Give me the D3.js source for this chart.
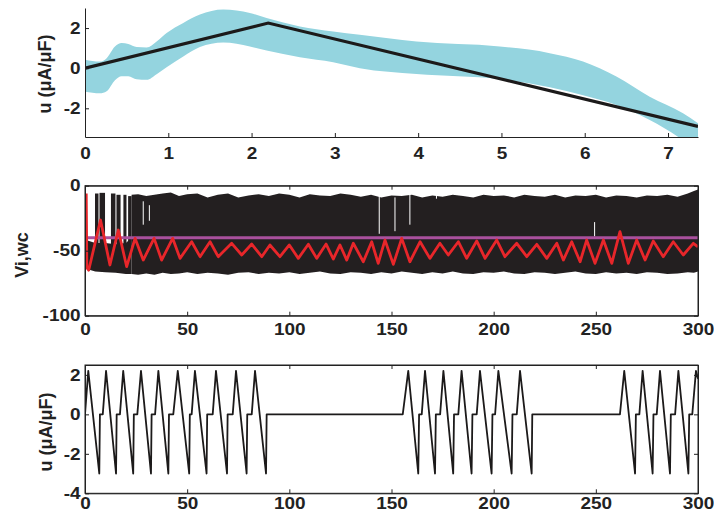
<!DOCTYPE html>
<html>
<head>
<meta charset="utf-8">
<script src="https://cdn.jsdelivr.net/npm/d3@7"></script>
<style>
  body { margin: 0; background: #fff; }
  svg text { font-family: 'Liberation Sans', Arial, sans-serif; font-weight: bold; fill: #222; }
</style>
</head>
<body>
<div id="chart"></div>
<script>
// ---- data: top panel (u band + u trajectory) ----
const bandT     = [0, 0.18, 0.26, 0.36, 0.44, 0.52, 0.62, 0.74, 0.86, 0.98, 1.18, 1.38, 1.66, 1.98, 2.18, 2.58, 2.98, 3.3, 3.98, 4.98, 5.58, 5.98, 6.38, 6.78, 7.18, 7.36];
const bandUpper = [0.42, 0.33, 0.5, 1.08, 1.25, 1.2, 1.05, 1.03, 1.33, 1.75, 2.25, 2.67, 2.92, 2.75, 2.5, 2.08, 1.83, 1.67, 1.33, 1.08, 0.75, 0.33, -0.42, -1.42, -2.25, -2.75];
const bandLower = [-1.17, -1.25, -1.15, -0.6, -0.4, -0.4, -0.55, -0.58, -0.3, 0.05, 0.58, 1.05, 1.28, 1.08, 0.88, 0.55, 0.3, 0.0, -0.29, -0.55, -0.95, -1.35, -1.83, -2.58, -3.6, -4.2];
const uLineT = [0, 2.2, 7.36];
const uLineV = [0, 2.25, -2.9];
const topXTicks = [0, 1, 2, 3, 4, 5, 6, 7];
const topYTicks = [-2, 0, 2];

// ---- data: middle panel (voltages) ----
const envT     = [22.8, 26, 30, 34, 38, 42, 46, 50, 55, 60, 65, 70, 75, 80, 85, 90, 95, 100, 105, 110, 115, 120, 125, 130, 135, 140, 145, 150, 155, 160, 165, 170, 175, 180, 185, 190, 195, 200, 205, 210, 215, 220, 225, 230, 235, 240, 245, 250, 255, 260, 265, 270, 275, 280, 285, 290, 295, 298, 300];
const envUpper = [-7, -6.5, -8, -7, -6, -5.2, -8, -6.5, -6, -9, -7, -6, -9, -7.5, -6.5, -8, -6, -7, -9, -6.5, -7.5, -8, -6, -7, -8.5, -7, -9, -7.5, -8, -7, -9, -7.5, -8.5, -7, -8, -9, -7, -8, -7.5, -9, -7, -8, -8.5, -7, -9, -7.5, -8, -7, -9, -7.5, -8, -9, -7.5, -8, -7, -8.5, -6, -4, -3];
const envLower = [-68, -68.5, -67.5, -68.5, -67, -68, -67.5, -66.5, -68, -67, -67.5, -68.5, -67, -66.5, -68, -67, -67.5, -66.5, -68, -67, -66, -67.5, -68, -66.5, -67, -68, -66.5, -67.5, -66, -67, -68, -66.5, -67.5, -66, -67.5, -68, -66.5, -67, -66, -67.5, -68, -66.5, -67, -68, -67, -66, -67.5, -68, -66.5, -67.5, -67, -68, -66.5, -67, -68, -67.5, -66.5, -67, -66];
const earlyT     = [0.9, 5, 10, 15, 20, 22.8];
const earlyUpper = [-42, -44, -44, -45, -44, -40];
const earlyLower = [-64, -66, -66.5, -67, -68, -68];
const spikeStart = [4.9, 7.1, 12.7, 15.4, 18.8, 21.1];
const spikeEnd   = [6.6, 9.8, 14.9, 17.4, 20.3, 22.8];
const spikeTop   = [-6, -5.5, -6, -7, -7, -8];
const gapT      = [28.5, 31.5, 144, 151.7, 159, 172, 249.4];
const gapTop    = [-12, -15, -6, -9, -6, -6, -28];
const gapBottom = [-30, -27, -37, -35, -30, -10, -39];
const redT = [0.6, 0.9, 1.8, 7.6, 12.2, 16.3, 20.4, 24.5, 28.5, 33.8, 37.5, 42.9, 46.5, 52.2, 56.3, 61.2, 65.2, 71.8, 76.7, 81.6, 86.5, 90.5, 95.4, 100, 104.4, 109.3, 113.4, 118, 121.5, 124.8, 128.1, 131.3, 136.2, 140.3, 143.5, 146.8, 150.9, 155, 159, 164, 168.8, 173.7, 177.8, 182.7, 186.8, 191.7, 195.8, 201.5, 205.5, 211.3, 216.2, 221.1, 226, 230.9, 234.1, 238.2, 242.3, 245.5, 249.6, 253.7, 257.8, 261.8, 265.9, 270, 274.1, 278.1, 283, 287.9, 292.8, 297.7, 300];
const redV = [-6, -63, -65, -26.4, -61, -34.1, -62.3, -40.5, -57.2, -40.5, -57.2, -40.5, -55.9, -43.1, -54.6, -43.1, -54.6, -44.3, -53.3, -44.9, -54.6, -45.6, -54.6, -45.6, -55.9, -45, -55.9, -44.9, -56.4, -45.6, -57.2, -44.3, -58.5, -43.1, -59.7, -41.8, -60.5, -40.5, -58.5, -43.1, -55.9, -44.3, -53.3, -43.1, -55.9, -42.5, -55.9, -41.8, -54.6, -44.3, -54.6, -45.1, -55.9, -44.3, -57.2, -43.1, -58.5, -41.8, -59.7, -41.8, -59.7, -35.4, -59.7, -41.8, -57.2, -42.5, -54.6, -43.1, -53.3, -44.3, -47];
const thresholdV = -40;
const midXTicks = [0, 50, 100, 150, 200, 250, 300];
const midYTicks = [-100, -50, 0];

// ---- data: bottom panel (stimulus u) ----
const stimT = [0, 1.6, 7.0, 7.3, 8.7, 10.3, 15.2, 15.5, 17.1, 18.7, 23.6, 23.9, 25.6, 27.4, 32.3, 32.6, 34.3, 35.9, 40.8, 41.1, 43.2, 45.4, 51.0, 51.3, 52.2, 53.8, 59.5, 59.8, 62.5, 64.1, 69.5, 69.8, 72.3, 73.9, 79.1, 79.4, 81.6, 83.2, 88.6, 88.9,
  155.5, 158.2, 163.1, 163.5, 164.8, 166.4, 171.3, 171.7, 173.8, 175.4, 180.2, 180.6, 182.7, 184.3, 189.2, 189.6, 191.7, 193.3, 199.0, 199.4, 200.7, 202.3, 208.8, 209.2, 211.3, 212.9, 218.6, 218.9,
  261.8, 263.9, 269.2, 269.6, 271.3, 272.9, 277.8, 278.2, 279.8, 281.4, 286.3, 286.7, 288.8, 290.4, 295.3, 295.7, 297.2, 299.0, 300];
const stimV = [0, 2.2, -3, 0, 0, 2.2, -3, 0, 0, 2.2, -3, 0, 0, 2.2, -3, 0, 0, 2.2, -3, 0, 0, 2.2, -3, 0, 0, 2.2, -3, 0, 0, 2.2, -3, 0, 0, 2.2, -3, 0, 0, 2.2, -3, 0,
  0, 2.2, -3, 0, 0, 2.2, -3, 0, 0, 2.2, -3, 0, 0, 2.2, -3, 0, 0, 2.2, -3, 0, 0, 2.2, -3, 0, 0, 2.2, -3, 0,
  0, 2.2, -3, 0, 0, 2.2, -3, 0, 0, 2.2, -3, 0, 0, 2.2, -3, 0, 0, 2.2, 1.8];
const botYTicks = [-4, -2, 0, 2];

const width = 714, height = 520;
const left = 85, right = 698;
const stretch = 1.15;
const fmt = d => String(d);

const svg = d3.select('#chart').append('svg')
  .attr('width', width).attr('height', height);

const defs = svg.append('defs');

function styleTicks(g, isLeft) {
  g.selectAll('.tick line').attr('stroke', '#222');
  g.select('.domain').attr('stroke', '#222');
  g.selectAll('.tick text')
    .attr('font-size', 16.5)
    .attr('transform', `scale(${stretch},1)`);
  if (isLeft) g.selectAll('.tick text').attr('x', -4.5 / stretch);
}

function clip(id, y0, y1) {
  defs.append('clipPath').attr('id', id)
    .append('rect').attr('x', left).attr('y', y0).attr('width', right - left).attr('height', y1 - y0);
  return `url(#${id})`;
}

function yLabel(text, cx, cy) {
  svg.append('text')
    .attr('transform', `translate(${cx},${cy}) rotate(-90)`)
    .attr('text-anchor', 'middle')
    .attr('dominant-baseline', 'central')
    .attr('font-size', 18)
    .text(text);
}

// ================= top panel =================
{
  const y0 = 8, y1 = 137;
  const x = d3.scaleLinear().domain([0, 7.36]).range([left, right]);
  const y = d3.scaleLinear().domain([-3.43, 3]).range([y1, y0]);
  const g = svg.append('g').attr('clip-path', clip('clipTop', y0, y1));

  const band = d3.area()
    .x((d, i) => x(bandT[i]))
    .y0((d, i) => y(bandLower[i]))
    .y1((d, i) => y(bandUpper[i]))
    .curve(d3.curveMonotoneX);
  g.append('path').datum(bandT).attr('d', band).attr('fill', '#94d4df');

  const line = d3.line().x((d, i) => x(uLineT[i])).y((d, i) => y(uLineV[i]));
  g.append('path').datum(uLineT).attr('d', line)
    .attr('fill', 'none').attr('stroke', '#1c1a1a').attr('stroke-width', 3.2);

  const xa = svg.append('g').attr('transform', `translate(0,${y1})`)
    .call(d3.axisBottom(x).tickValues(topXTicks).tickFormat(fmt).tickSizeInner(-4).tickSizeOuter(0).tickPadding(10));
  styleTicks(xa, false);
  const ya = svg.append('g').attr('transform', `translate(${left},0)`)
    .call(d3.axisLeft(y).tickValues(topYTicks).tickFormat(fmt).tickSizeInner(-4).tickSizeOuter(0));
  styleTicks(ya, true);

  yLabel('u (\u03bcA/\u03bcF)', 45, 74);
}

// ================= middle panel =================
{
  const y0 = 185.7, y1 = 315.7;
  const x = d3.scaleLinear().domain([0, 300]).range([left, right]);
  const y = d3.scaleLinear().domain([-100, 0]).range([y1, y0]);
  const g = svg.append('g').attr('clip-path', clip('clipMid', y0, y1));
  const black = '#231f20';

  const env = d3.area()
    .x(d => x(d.t)).y0(d => y(d.lo)).y1(d => y(d.hi));
  g.append('path').datum(envT.map((t, i) => ({ t, hi: envUpper[i], lo: envLower[i] })))
    .attr('d', env).attr('fill', black);
  g.append('path').datum(earlyT.map((t, i) => ({ t, hi: earlyUpper[i], lo: earlyLower[i] })))
    .attr('d', env).attr('fill', black);

  g.selectAll('rect.spike').data(spikeStart).enter().append('rect')
    .attr('class', 'spike')
    .attr('x', (d, i) => x(spikeStart[i]))
    .attr('width', (d, i) => x(spikeEnd[i]) - x(spikeStart[i]))
    .attr('y', (d, i) => y(spikeTop[i]))
    .attr('height', (d, i) => y(-46) - y(spikeTop[i]))
    .attr('fill', black);

  g.selectAll('line.gap').data(gapT).enter().append('line')
    .attr('class', 'gap')
    .attr('x1', d => x(d)).attr('x2', d => x(d))
    .attr('y1', (d, i) => y(gapTop[i])).attr('y2', (d, i) => y(gapBottom[i]))
    .attr('stroke', '#fff').attr('stroke-width', 1);

  g.append('line')
    .attr('x1', x(0)).attr('x2', x(300))
    .attr('y1', y(thresholdV)).attr('y2', y(thresholdV))
    .attr('stroke', '#a9509d').attr('stroke-width', 3);

  const red = d3.line().x((d, i) => x(redT[i])).y((d, i) => y(redV[i]));
  g.append('path').datum(redT).attr('d', red)
    .attr('fill', 'none').attr('stroke', '#e8262a').attr('stroke-width', 2.8)
    .attr('stroke-linejoin', 'round');

  svg.append('rect').attr('x', left).attr('y', y0).attr('width', right - left).attr('height', y1 - y0)
    .attr('fill', 'none').attr('stroke', '#222');
  const xa = svg.append('g').attr('transform', `translate(0,${y1})`)
    .call(d3.axisBottom(x).tickValues(midXTicks).tickFormat(fmt).tickSizeInner(-4).tickSizeOuter(0).tickPadding(8));
  styleTicks(xa, false);
  const xt = svg.append('g').attr('transform', `translate(0,${y0})`)
    .call(d3.axisTop(x).tickValues(midXTicks).tickSizeInner(-4).tickSizeOuter(0).tickFormat(''));
  styleTicks(xt, false);
  const ya = svg.append('g').attr('transform', `translate(${left},0)`)
    .call(d3.axisLeft(y).tickValues(midYTicks).tickFormat(fmt).tickSizeInner(-4).tickSizeOuter(0));
  styleTicks(ya, true);
  const yr = svg.append('g').attr('transform', `translate(${right},0)`)
    .call(d3.axisRight(y).tickValues(midYTicks).tickSizeInner(-4).tickSizeOuter(0).tickFormat(''));
  styleTicks(yr, false);

  yLabel('Vi,wc', 22, 255);
}

// ================= bottom panel =================
{
  const y0 = 365, y1 = 493.3;
  const x = d3.scaleLinear().domain([0, 300]).range([left, right]);
  const y = d3.scaleLinear().domain([-4, 2.5]).range([y1, y0]);
  const g = svg.append('g').attr('clip-path', clip('clipBot', y0, y1));

  const line = d3.line().x((d, i) => x(stimT[i])).y((d, i) => y(stimV[i]));
  g.append('path').datum(stimT).attr('d', line)
    .attr('fill', 'none').attr('stroke', '#1c1a1a').attr('stroke-width', 1.8)
    .attr('stroke-linejoin', 'round');

  svg.append('rect').attr('x', left).attr('y', y0).attr('width', right - left).attr('height', y1 - y0)
    .attr('fill', 'none').attr('stroke', '#222');
  const xa = svg.append('g').attr('transform', `translate(0,${y1})`)
    .call(d3.axisBottom(x).tickValues(midXTicks).tickFormat(fmt).tickSizeInner(-4).tickSizeOuter(0).tickPadding(4));
  styleTicks(xa, false);
  const xt = svg.append('g').attr('transform', `translate(0,${y0})`)
    .call(d3.axisTop(x).tickValues(midXTicks).tickSizeInner(-4).tickSizeOuter(0).tickFormat(''));
  styleTicks(xt, false);
  const ya = svg.append('g').attr('transform', `translate(${left},0)`)
    .call(d3.axisLeft(y).tickValues(botYTicks).tickFormat(fmt).tickSizeInner(-4).tickSizeOuter(0));
  styleTicks(ya, true);
  const yr = svg.append('g').attr('transform', `translate(${right},0)`)
    .call(d3.axisRight(y).tickValues(botYTicks).tickSizeInner(-4).tickSizeOuter(0).tickFormat(''));
  styleTicks(yr, false);

  yLabel('u (\u03bcA/\u03bcF)', 46, 432);
}
</script>
</body>
</html>
